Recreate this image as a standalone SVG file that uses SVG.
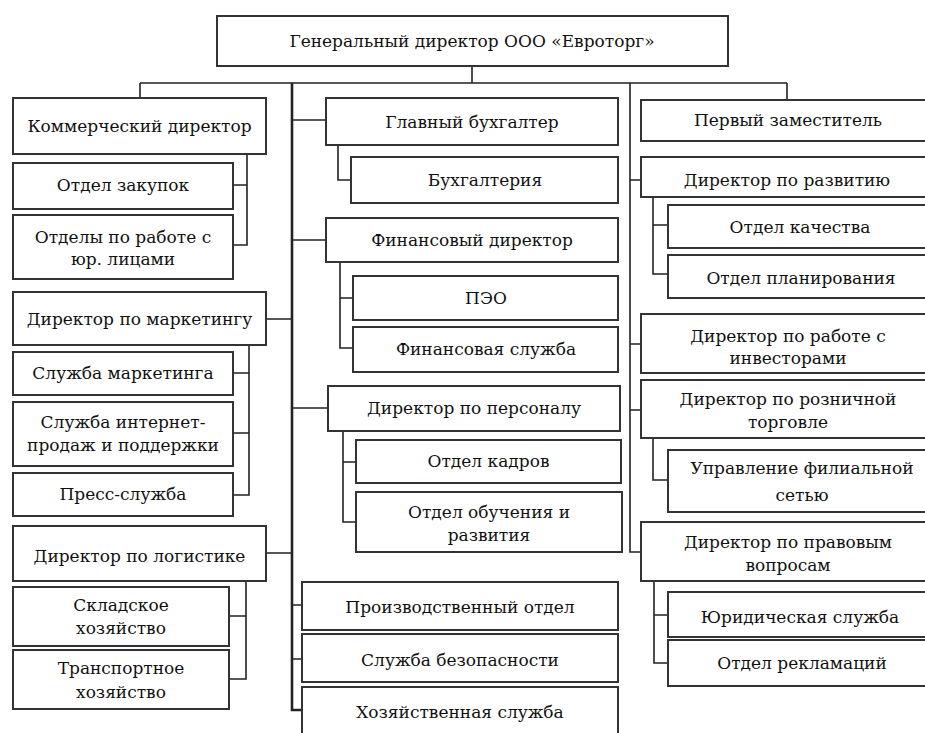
<svg xmlns="http://www.w3.org/2000/svg" width="925" height="733" viewBox="0 0 925 733">
<style>
.b{fill:#fff;stroke:#333;stroke-width:2}
.t{font-family:"DejaVu Serif","Liberation Serif","Times New Roman",serif;font-size:17px;fill:#111;text-anchor:middle}
.c{fill:none;stroke:#222;stroke-width:1.6}
</style>
<rect width="925" height="733" fill="#fff"/>
<g id="connectors">
<path class="c" d="M472 66V83M140 83H787M140 83V98M787 83V100"/>
<path class="c" style="stroke-width:2.6" d="M292 83V710H302"/>
<path class="c" d="M292 120H326M292 240H326M292 319H266M292 408H328M292 553H266M292 605H302M292 659H302"/>
<path class="c" d="M247 154V245H233M233 185H247"/>
<path class="c" d="M249 339V495H233M233 373H249M233 433H249"/>
<path class="c" d="M246 581V679H229M229 616H246"/>
<path class="c" d="M338 145V180H351"/>
<path class="c" d="M340 262V348H353M340 298H353"/>
<path class="c" d="M343 431V522H356M343 462H356"/>
<path class="c" d="M630 83V552H641M630 180H641M630 344H641M630 410H641"/>
<path class="c" d="M653 197V274H668M653 225H668"/>
<path class="c" d="M653 438V480H668"/>
<path class="c" d="M654 581V663H668M654 615H668"/>
</g>
<g id="gen"><rect class="b" x="217" y="16" width="511" height="50"/><text class="t" x="472" y="47">Генеральный директор ООО «Евроторг»</text></g>
<g id="kom"><rect class="b" x="13" y="98" width="253" height="56"/><text class="t" x="139.5" y="132">Коммерческий директор</text></g>
<g id="zak"><rect class="b" x="13" y="163" width="220" height="46"/><text class="t" x="123" y="191">Отдел закупок</text></g>
<g id="yur"><rect class="b" x="13" y="215" width="220" height="64"/><text class="t" x="123" y="243">Отделы по работе с</text><text class="t" x="123" y="265">юр. лицами</text></g>
<g id="mar"><rect class="b" x="13" y="292" width="253" height="53"/><text class="t" x="139.5" y="325">Директор по маркетингу</text></g>
<g id="sm"><rect class="b" x="13" y="352" width="220" height="43"/><text class="t" x="123" y="379">Служба маркетинга</text></g>
<g id="inet"><rect class="b" x="13" y="402" width="220" height="64"/><text class="t" x="123" y="428">Служба интернет-</text><text class="t" x="123" y="451">продаж и поддержки</text></g>
<g id="press"><rect class="b" x="13" y="473" width="220" height="43"/><text class="t" x="123" y="500">Пресс-служба</text></g>
<g id="log"><rect class="b" x="13" y="526" width="253" height="55"/><text class="t" x="139.5" y="562">Директор по логистике</text></g>
<g id="skl"><rect class="b" x="13" y="587" width="216" height="59"/><text class="t" x="121" y="611">Складское</text><text class="t" x="121" y="634">хозяйство</text></g>
<g id="tr"><rect class="b" x="13" y="650" width="216" height="59"/><text class="t" x="121" y="674">Транспортное</text><text class="t" x="121" y="698">хозяйство</text></g>
<g id="gb"><rect class="b" x="326" y="98" width="292" height="47"/><text class="t" x="472" y="128">Главный бухгалтер</text></g>
<g id="bux"><rect class="b" x="351" y="157" width="267" height="46"/><text class="t" x="485" y="186">Бухгалтерия</text></g>
<g id="fin"><rect class="b" x="326" y="218" width="292" height="44"/><text class="t" x="472" y="246">Финансовый директор</text></g>
<g id="peo"><rect class="b" x="353" y="276" width="265" height="44"/><text class="t" x="486" y="304">ПЭО</text></g>
<g id="fs"><rect class="b" x="353" y="327" width="265" height="45"/><text class="t" x="486" y="355">Финансовая служба</text></g>
<g id="pers"><rect class="b" x="328" y="386" width="292" height="45"/><text class="t" x="474" y="414">Директор по персоналу</text></g>
<g id="kad"><rect class="b" x="356" y="440" width="265" height="43"/><text class="t" x="488.5" y="467">Отдел кадров</text></g>
<g id="obu"><rect class="b" x="356" y="492" width="266" height="60"/><text class="t" x="489" y="518">Отдел обучения и</text><text class="t" x="489" y="541">развития</text></g>
<g id="proizv"><rect class="b" x="302" y="582" width="316" height="48"/><text class="t" x="460" y="613">Производственный отдел</text></g>
<g id="bez"><rect class="b" x="302" y="634" width="316" height="48"/><text class="t" x="460" y="666">Служба безопасности</text></g>
<g id="hoz"><rect class="b" x="302" y="687" width="316" height="60"/><text class="t" x="460" y="718">Хозяйственная служба</text></g>
<g id="pz"><rect class="b" x="641" y="100" width="300" height="41"/><text class="t" x="788" y="126">Первый заместитель</text></g>
<g id="razv"><rect class="b" x="641" y="157" width="300" height="40"/><text class="t" x="787" y="186">Директор по развитию</text></g>
<g id="kach"><rect class="b" x="668" y="205" width="270" height="43"/><text class="t" x="800" y="233">Отдел качества</text></g>
<g id="plan"><rect class="b" x="668" y="255" width="270" height="43"/><text class="t" x="801" y="284">Отдел планирования</text></g>
<g id="inv"><rect class="b" x="641" y="314" width="300" height="59"/><text class="t" x="788" y="342">Директор по работе с</text><text class="t" x="788" y="364">инвесторами</text></g>
<g id="rozn"><rect class="b" x="641" y="380" width="300" height="58"/><text class="t" x="788" y="405">Директор по розничной</text><text class="t" x="788" y="428">торговле</text></g>
<g id="fil"><rect class="b" x="668" y="450" width="270" height="62"/><text class="t" x="802" y="474">Управление филиальной</text><text class="t" x="802" y="501">сетью</text></g>
<g id="prav"><rect class="b" x="641" y="522" width="300" height="59"/><text class="t" x="788" y="548">Директор по правовым</text><text class="t" x="788" y="571">вопросам</text></g>
<g id="yurs"><rect class="b" x="668" y="592" width="270" height="45"/><text class="t" x="800" y="623">Юридическая служба</text></g>
<g id="rekl"><rect class="b" x="668" y="640" width="270" height="46"/><text class="t" x="802" y="669">Отдел рекламаций</text></g>
</svg>
